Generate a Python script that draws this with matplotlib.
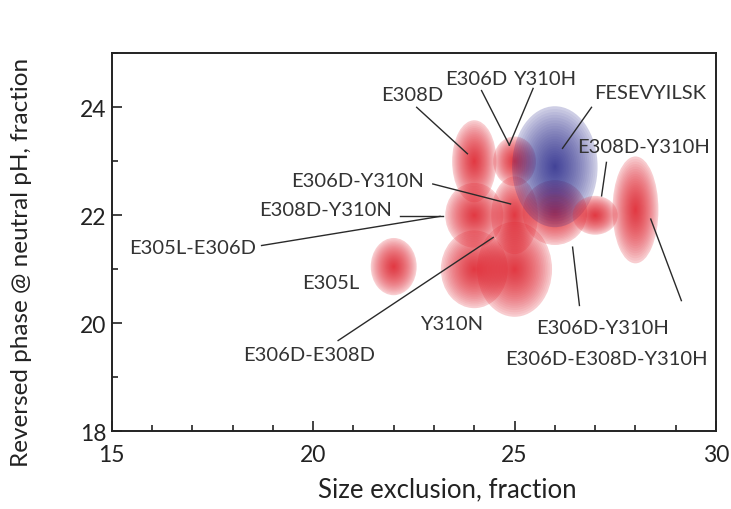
import matplotlib
matplotlib.use("Agg")
import matplotlib.pyplot as plt
from matplotlib.patches import Ellipse
from matplotlib.ticker import MultipleLocator

plt.rcParams['font.family'] = ['Lato', 'DejaVu Sans']

# blobs: centre, half-width, half-height, colour group (drawn in this order)
blob_x = [22, 24, 24, 24, 25, 25, 25, 26, 26, 27, 28]
blob_y = [21.05, 23.0, 22.0, 21.0, 21.0, 22.0, 23.0, 22.05, 22.9, 22.0, 22.1]
blob_rx = [0.57, 0.55, 0.72, 0.83, 0.93, 0.58, 0.53, 0.8, 1.06, 0.56, 0.57]
blob_ry = [0.53, 0.76, 0.6, 0.72, 0.88, 0.72, 0.46, 0.6, 1.12, 0.36, 0.99]
blob_kind = ['red', 'red', 'red', 'red', 'red', 'red', 'red', 'red', 'blue', 'red', 'red']

# labels and their leader lines
labels = ['E308D', 'E306D', 'Y310H', 'FESEVYILSK', 'E308D-Y310H', 'E306D-Y310N',
          'E308D-Y310N', 'E305L-E306D', 'E305L', 'E306D-E308D', 'Y310N',
          'E306D-Y310H', 'E306D-E308D-Y310H']
label_x = [22.47, 24.05, 25.74, 28.36, 28.19, 21.10, 20.31, 17.0, 20.44, 19.9, 23.44, 27.19, 27.27]
label_y = [24.23, 24.54, 24.54, 24.28, 23.27, 22.64, 22.10, 21.41, 20.76, 19.42, 20.0, 19.93, 19.34]
line_x0 = [22.57, 24.18, 25.46, 26.91, 27.28, 22.97, 22.15, 18.72, None, 20.62, None, 26.61, 29.14]
line_y0 = [24.0, 24.31, 24.35, 24.0, 22.98, 22.58, 21.98, 21.44, None, 19.68, None, 20.33, 20.42]
line_x1 = [23.83, 24.87, 24.87, 26.19, 27.16, 24.90, 23.23, 23.15, None, 24.47, None, 26.44, 28.38]
line_y1 = [23.14, 23.30, 23.30, 23.24, 22.36, 22.21, 21.98, 21.98, None, 21.59, None, 21.41, 21.93]

colors = {'red': '#e21f2b', 'blue': '#24248a'}
ring_alpha = {'red': 0.065, 'blue': 0.06}

fig = plt.figure(figsize=(7.31, 5.10), dpi=100)
ax = fig.add_axes([0.1528, 0.1524, 0.8267, 0.7411])

n_rings = 26
for x, y, rx, ry, kind in zip(blob_x, blob_y, blob_rx, blob_ry, blob_kind):
    c = colors[kind]
    ax.add_patch(Ellipse((x, y), 2 * rx, 2 * ry, facecolor=c, edgecolor='none',
                         alpha=0.22, zorder=2))
    for k in range(1, n_rings):
        s = (1 - k / n_rings) ** 1.25
        ax.add_patch(Ellipse((x, y), 2 * rx * s, 2 * ry * s, facecolor=c,
                             edgecolor='none', alpha=ring_alpha[kind], zorder=2))

for i, lab in enumerate(labels):
    ax.text(label_x[i], label_y[i], lab, ha='center', va='center',
            fontsize=14.5, color='#333333', zorder=4)
    if line_x0[i] is not None:
        ax.plot([line_x0[i], line_x1[i]], [line_y0[i], line_y1[i]],
                color='#2a2a2a', lw=1.0, zorder=3)

ax.set_xlim(15, 30)
ax.set_ylim(18, 25)
ax.set_xticks([15, 20, 25, 30])
ax.set_yticks([18, 20, 22, 24])
ax.xaxis.set_minor_locator(MultipleLocator(1))
ax.yaxis.set_minor_locator(MultipleLocator(1))
ax.tick_params(which='both', direction='in', top=False, right=False,
               labelsize=16.5, colors='#222222', width=1.2)
ax.tick_params(which='major', length=7.5)
ax.tick_params(axis='x', which='major', pad=9)
ax.tick_params(axis='y', which='major', pad=4)
ax.tick_params(which='minor', length=4.5)
for sp in ax.spines.values():
    sp.set_linewidth(1.4)
    sp.set_color('#222222')

fig.text(447 / 731, 1 - 490 / 510, 'Size exclusion, fraction', fontsize=18.5,
         color='#222222', ha='center', va='center')
fig.text(22 / 731, 1 - 262 / 510, 'Reversed phase @ neutral pH, fraction',
         fontsize=17.5, color='#222222', ha='center', va='center', rotation=90)

fig.savefig('out.png', dpi=100)
